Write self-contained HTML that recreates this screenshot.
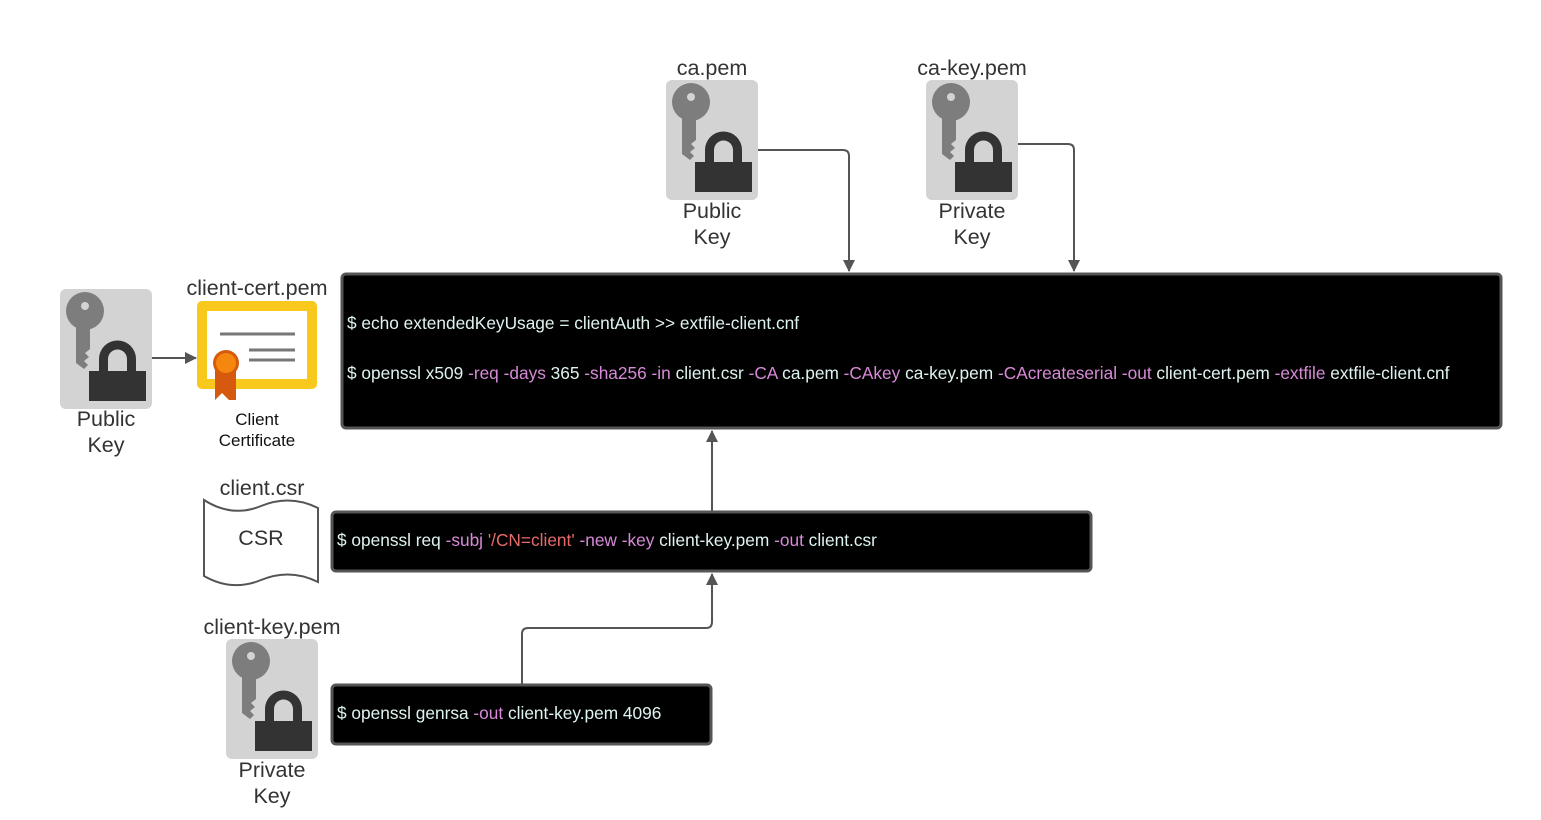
<!DOCTYPE html>
<html><head><meta charset="utf-8"><style>
html,body{margin:0;padding:0;background:#fff;width:1541px;height:820px;overflow:hidden}
svg text{font-family:"Liberation Sans",sans-serif}
.lbl{font-size:21.5px;fill:#333;text-anchor:middle}
.t{font-size:17.3px;fill:#dff3f0}
.f{fill:#d88ad8}
.r{fill:#e86a6a}
</style></head><body>
<svg width="1541" height="820" viewBox="0 0 1541 820" xmlns="http://www.w3.org/2000/svg">
<defs>
<g id="ic">
<rect x="0" y="0" width="92" height="120" rx="6" fill="#d3d3d3"/>
<path d="M16 30 L16 74 L24 80 L28 76 L24 72 L29 68 L25 64 L30 60 L30 30 Z" fill="#7d7d7d"/>
<circle cx="25" cy="22" r="19" fill="#7d7d7d"/>
<circle cx="25" cy="17" r="4" fill="#d3d3d3"/>
<path d="M39 82 L39 70 A18.5 18.5 0 0 1 76 70 L76 82 L67 82 L67 70 A9.5 9.5 0 0 0 48 70 L48 82 Z" fill="#333"/>
<rect x="29" y="82" width="57" height="30" fill="#333"/>
</g>
<marker id="ah" markerWidth="12" markerHeight="12" refX="11" refY="6" orient="auto" markerUnits="userSpaceOnUse">
<path d="M0 0 L12 6 L0 12 Z" fill="#555"/>
</marker>
</defs>

<g fill="none" stroke="#555" stroke-width="2">
<path d="M758 150 L843 150 Q849 150 849 156 L849 271" marker-end="url(#ah)"/>
<path d="M1018 144 L1068 144 Q1074 144 1074 150 L1074 271" marker-end="url(#ah)"/>
<path d="M712 511 L712 431" marker-end="url(#ah)"/>
<path d="M522 685 L522 634 Q522 628 528 628 L706 628 Q712 628 712 622 L712 574" marker-end="url(#ah)"/>
<path d="M152 358 L196 358" marker-end="url(#ah)"/>
</g>

<use href="#ic" x="666" y="80"/>
<use href="#ic" x="926" y="80"/>
<use href="#ic" x="60" y="289"/>
<use href="#ic" x="226" y="639"/>

<text class="lbl" x="712" y="75">ca.pem</text>
<text class="lbl" x="712" y="218">Public</text>
<text class="lbl" x="712" y="244">Key</text>
<text class="lbl" x="972" y="75">ca-key.pem</text>
<text class="lbl" x="972" y="218">Private</text>
<text class="lbl" x="972" y="244">Key</text>
<text class="lbl" x="106" y="426">Public</text>
<text class="lbl" x="106" y="452">Key</text>
<text class="lbl" x="257" y="295">client-cert.pem</text>
<text class="lbl" x="262" y="495">client.csr</text>
<text class="lbl" x="272" y="634">client-key.pem</text>
<text class="lbl" x="272" y="777">Private</text>
<text class="lbl" x="272" y="803">Key</text>

<rect x="197" y="301" width="120" height="88" rx="5" fill="#f8c81c"/>
<rect x="207" y="311" width="100" height="68" fill="#fff"/>
<g stroke="#777" stroke-width="3">
<line x1="220" y1="334" x2="295" y2="334"/>
<line x1="249" y1="350" x2="295" y2="350"/>
<line x1="249" y1="360" x2="295" y2="360"/>
</g>
<path d="M215 368 L215 400 L222 393 L229 400 L236 400 L236 368 Z" fill="#d65a0e"/>
<circle cx="226" cy="363" r="13" fill="#d65a0e"/>
<circle cx="226" cy="363" r="10" fill="#f5870f"/>
<text x="257" y="425" font-size="17" fill="#111" text-anchor="middle">Client</text>
<text x="257" y="446" font-size="17" fill="#111" text-anchor="middle">Certificate</text>

<path d="M204 500 Q232 518 261 506 Q290 494 318 508 L318 582 Q290 568 261 580 Q232 592 204 576 Z" fill="#fff" stroke="#555" stroke-width="2"/>
<text class="lbl" x="261" y="545" font-size="22">CSR</text>

<rect x="342" y="274" width="1159" height="154" rx="4" fill="#000" stroke="#555" stroke-width="3"/>
<text class="t" x="347" y="329">$ echo extendedKeyUsage = clientAuth &gt;&gt; extfile-client.cnf</text>
<text class="t" x="347" y="379">$ openssl x509 <tspan class="f">-req -days</tspan> 365 <tspan class="f">-sha256 -in</tspan> client.csr <tspan class="f">-CA</tspan> ca.pem <tspan class="f">-CAkey</tspan> ca-key.pem <tspan class="f">-CAcreateserial -out</tspan> client-cert.pem <tspan class="f">-extfile</tspan> extfile-client.cnf</text>

<rect x="332" y="512" width="759" height="59" rx="4" fill="#000" stroke="#555" stroke-width="3"/>
<text class="t" x="337" y="546">$ openssl req <tspan class="f">-subj</tspan> <tspan class="r">'/CN=client'</tspan> <tspan class="f">-new -key</tspan> client-key.pem <tspan class="f">-out</tspan> client.csr</text>

<rect x="332" y="685" width="379" height="59" rx="4" fill="#000" stroke="#555" stroke-width="3"/>
<text class="t" x="337" y="719">$ openssl genrsa <tspan class="f">-out</tspan> client-key.pem 4096</text>
</svg>
</body></html>
